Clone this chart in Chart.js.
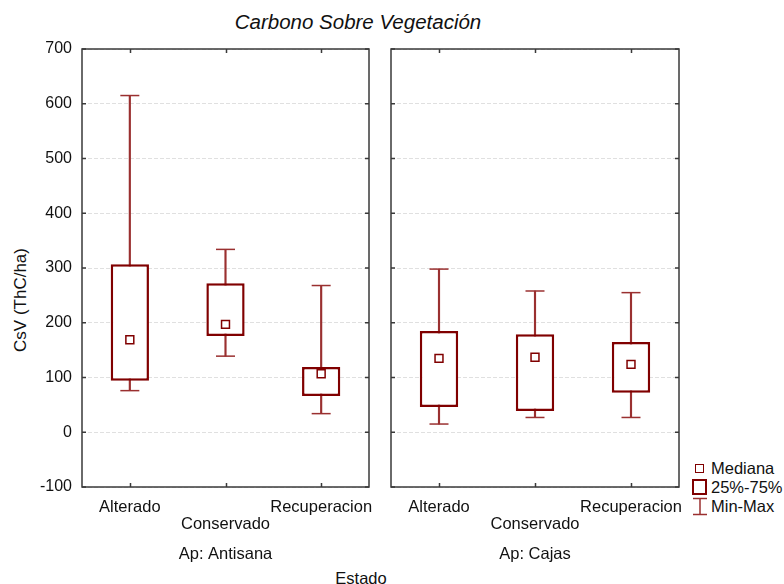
<!DOCTYPE html>
<html>
<head>
<meta charset="utf-8">
<script src="https://cdn.jsdelivr.net/npm/chart.js@4.4.1/dist/chart.umd.min.js"></script>
<style>
  body { margin: 0; background: #fff; }
  #wrap { position: relative; width: 784px; height: 584px; overflow: hidden;
          font-family: "Liberation Sans", Arial, sans-serif; color: #111; }
  canvas { position: absolute; top: 0; }
  #cvAntisana { left: 0; }
  #cvCajas { left: 380px; }
  .txt { position: absolute; white-space: nowrap; }
  #title { left: 358px; top: 10px; font-size: 20.5px; font-style: italic; transform: translateX(-50%); }
  #ytitle { left: 21px; top: 300px; font-size: 17px; transform: translate(-50%, -50%) rotate(-90deg); }
  #xtitle { left: 361px; top: 569px; font-size: 16.5px; transform: translateX(-50%); }
  .leg { position: absolute; left: 711px; font-size: 16.5px; transform: translateY(-50%); }
  .sym { position: absolute; box-sizing: border-box; }
</style>
</head>
<body>
<div id="wrap">
  <div id="title" class="txt">Carbono Sobre Vegetación</div>
  <div id="ytitle" class="txt">CsV (ThC/ha)</div>
  <div id="xtitle" class="txt">Estado</div>
  <canvas id="cvAntisana" width="380" height="584"></canvas>
  <canvas id="cvCajas" width="310" height="584"></canvas>

  <!-- legend -->
  <div class="sym" style="left:695px;top:464px;width:9px;height:9px;border:1.5px solid #800000;"></div>
  <div class="leg" style="top:468px;">Mediana</div>
  <div class="sym" style="left:692px;top:479px;width:15px;height:16px;border:2.5px solid #800000;"></div>
  <div class="leg" style="top:487px;">25%-75%</div>
  <svg class="sym" style="left:692px;top:497px;" width="16" height="19">
    <path d="M1 1.5H15M8 1.5V17.5M1 17.5H15" stroke="#9a3030" stroke-width="1.5" fill="none"/>
  </svg>
  <div class="leg" style="top:506px;">Min-Max</div>
</div>

<script>
const estados = ['Alterado', 'Conservado', 'Recuperacion'];

// Ap: Antisana
const antisanaMin = [76, 139, 34];
const antisanaQ1  = [94, 176, 66];
const antisanaMed = [169, 197, 107];
const antisanaQ3  = [307, 272, 119];
const antisanaMax = [615, 334, 268];

// Ap: Cajas
const cajasMin = [15, 27, 27];
const cajasQ1  = [46, 39, 72];
const cajasMed = [135, 137, 124];
const cajasQ3  = [185, 179, 165];
const cajasMax = [298, 258, 255];

const yMin = -100, yMax = 700, yStep = 100;

const MAROON = '#800000';
const WHISKER = '#9a3030';
const FONT = '"Liberation Sans", Arial, sans-serif';

// closed frame around the plot area with inward tick marks on all four sides
const framePlugin = {
  id: 'frame',
  afterDraw(chart) {
    const { ctx, chartArea: a, scales: { x, y } } = chart;
    ctx.save();
    ctx.strokeStyle = '#3a3a3a';
    ctx.lineWidth = 1.5;
    ctx.beginPath();
    x.ticks.forEach((t, i) => {
      const px = Math.round(x.getPixelForTick(i)) + 0.5;
      ctx.moveTo(px, a.top); ctx.lineTo(px, a.top + 4);
      ctx.moveTo(px, a.bottom); ctx.lineTo(px, a.bottom - 4);
    });
    y.ticks.forEach((t, i) => {
      const py = y.getPixelForTick(i);
      ctx.moveTo(a.left, py); ctx.lineTo(a.left + 4, py);
      ctx.moveTo(a.right, py); ctx.lineTo(a.right - 4, py);
    });
    ctx.stroke();
    ctx.strokeRect(a.left, a.top, a.right - a.left, a.bottom - a.top);
    ctx.restore();
  }
};

function boxDatasets(min, q1, med, q3, max) {
  const cap = {
    type: 'line', showLine: false, pointStyle: 'line', pointRadius: 9.5,
    borderColor: WHISKER, pointBorderColor: WHISKER, pointBorderWidth: 1.5, order: 2
  };
  return [
    {
      type: 'line', data: med, showLine: false, pointStyle: 'rect', pointRadius: 5.6,
      borderColor: MAROON, pointBorderColor: MAROON, pointBackgroundColor: '#fff',
      pointBorderWidth: 1.5, order: 0
    },
    {
      type: 'bar', data: q1.map((v, i) => [v, q3[i]]), backgroundColor: '#fff',
      borderColor: MAROON, borderWidth: 2.5, borderSkipped: false, grouped: false,
      barPercentage: 0.4, categoryPercentage: 1, order: 1
    },
    Object.assign({ data: max }, cap),
    Object.assign({ data: min }, cap),
    {
      type: 'bar', data: min.map((v, i) => [v, max[i]]), backgroundColor: WHISKER,
      borderWidth: 0, barThickness: 1.5, grouped: false, order: 3
    }
  ];
}

function makePanel(canvasId, groupName, datasets, showYLabels, yAxisWidth, padRight) {
  return new Chart(document.getElementById(canvasId), {
    type: 'bar',
    data: { labels: estados, datasets },
    options: {
      responsive: false,
      animation: false,
      events: [],
      layout: { padding: { top: 49, right: padRight, left: 0, bottom: 0 } },
      plugins: { legend: { display: false }, tooltip: { enabled: false } },
      scales: {
        x: {
          offset: true,
          grid: { display: false, drawTicks: false },
          border: { display: false },
          ticks: {
            autoSkip: false, maxRotation: 0, minRotation: 0, padding: 11.5, color: '#111',
            font: { family: FONT, size: 16.5, lineHeight: 1.03 },
            callback: (v, i) => (i % 2 ? ['', estados[i]] : estados[i])
          },
          title: {
            display: true, text: groupName, color: '#111',
            font: { family: FONT, size: 16.5, lineHeight: 1.2 },
            padding: { top: 0, bottom: 20 }
          },
          afterFit: (s) => {
            // keep the plot edges fixed: no extra room for the outer labels
            s.height = 97;
            s.paddingLeft = 0;
            s.paddingRight = 0;
          }
        },
        y: {
          min: yMin, max: yMax,
          grid: { color: '#e0e0e0', drawTicks: false },
          border: { display: false, dash: [4, 2] },
          ticks: {
            stepSize: yStep, display: showYLabels, padding: 10, color: '#111',
            font: { family: FONT, size: 16 }
          },
          afterFit: (s) => { s.width = yAxisWidth; }
        }
      }
    },
    plugins: [framePlugin]
  });
}

makePanel('cvAntisana', 'Ap: Antisana',
  boxDatasets(antisanaMin, antisanaQ1, antisanaMed, antisanaQ3, antisanaMax), true, 82, 9);
makePanel('cvCajas', 'Ap: Cajas',
  boxDatasets(cajasMin, cajasQ1, cajasMed, cajasQ3, cajasMax), false, 11, 11);
</script>
</body>
</html>
